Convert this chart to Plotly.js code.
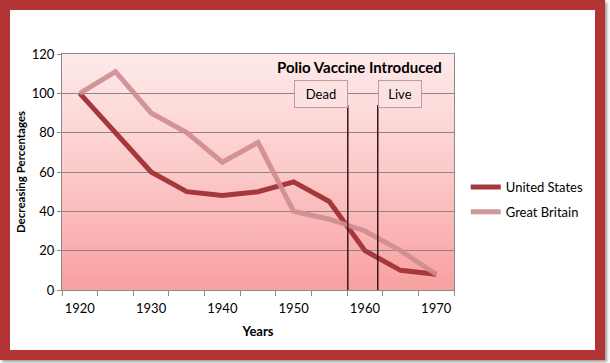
<!DOCTYPE html>
<html>
<head>
<meta charset="utf-8">
<script src="https://cdn.plot.ly/plotly-3.0.1.min.js"></script>
<style>
  html, body { margin: 0; padding: 0; background: #ffffff; }
  #frame { position: absolute; left: 0; top: 0; width: 605px; height: 360px; box-sizing: border-box;
           border: 10px solid #b23434; background: #ffffff; box-shadow: 2px 2px 3px #9a9a9a; }
  #plotbg { position: absolute; left: 62px; top: 54px; width: 392px; height: 236px;
            background: linear-gradient(to bottom, #feeaea 0%, #fcc9c9 50%, #f8a0a0 100%); }
  #chart { position: absolute; left: 0; top: 0; width: 610px; height: 363px; }
</style>
</head>
<body>
<div id="frame"></div>
<div id="plotbg"></div>
<div id="chart"></div>
<script>
const years = [1920, 1925, 1930, 1935, 1940, 1945, 1950, 1955, 1960, 1965, 1970];
const unitedStates = [100, 80, 60, 50, 48, 50, 55, 45, 20, 10, 8];
const greatBritain = [100, 111, 90, 80, 65, 75, 40, 36, 30, 20, 8];
const tickYears = [1920, 1930, 1940, 1950, 1960, 1970];
const vaccineLabels = ['Dead', 'Live'];
const vaccineYears = [1957.6, 1961.8];
const vaccineLineTop = 94;
const boxLevel = 99.5;

const font = 'Lato, "Liberation Sans", sans-serif';

const traces = [
  { x: years, y: unitedStates, name: 'United States', type: 'scatter', mode: 'lines',
    line: { color: '#a5383a', width: 5 }, legendgroup: 'a' },
  { x: years, y: greatBritain, name: 'Great Britain', type: 'scatter', mode: 'lines',
    line: { color: 'rgba(206,140,143,0.9)', width: 5 }, legendgroup: 'b' }
];

const shapes = vaccineYears.map(v => ({
  type: 'line', xref: 'x', yref: 'y', x0: v, x1: v, y0: 0, y1: vaccineLineTop,
  line: { color: '#3a1616', width: 1.5 }
}));

const annotations = [
  { text: '<b>Polio Vaccine Introduced</b>', xref: 'x', yref: 'paper',
    x: (vaccineYears[0] + vaccineYears[1]) / 2 - 0.4, y: 0.947, xanchor: 'center', yanchor: 'middle',
    showarrow: false, font: { family: font, size: 15, color: '#000000' } }
].concat(vaccineLabels.map((lab, i) => ({
  text: lab, xref: 'x', yref: 'y', x: vaccineYears[i], y: boxLevel,
  xanchor: i === 0 ? 'right' : 'left', yanchor: 'middle', showarrow: false,
  width: i === 0 ? 52 : 42, height: 26,
  bgcolor: '#fbe2e2', bordercolor: '#c29b9b', borderwidth: 1, borderpad: 0,
  font: { family: font, size: 13, color: '#000000' }
})));

const layout = {
  width: 610, height: 363,
  margin: { l: 62, r: 156, t: 54, b: 73, pad: 0 },
  paper_bgcolor: 'rgba(0,0,0,0)', plot_bgcolor: 'rgba(0,0,0,0)',
  font: { family: font, size: 13, color: '#000000' },
  showlegend: true,
  legend: { x: 1.03, y: 0.5, xanchor: 'left', yanchor: 'top', tracegroupgap: 5,
            font: { family: font, size: 13, color: '#000000' }, bgcolor: 'rgba(0,0,0,0)' },
  xaxis: {
    range: [1917.5, 1972.5], tickvals: tickYears, ticktext: tickYears.map(String),
    ticks: '', showgrid: false, zeroline: false,
    showline: true, linecolor: '#8a8a8a', linewidth: 1, mirror: true,
    tickfont: { family: font, size: 13 }, ticklabelstandoff: 6,
    minor: { tick0: 1917.5, dtick: 5, ticks: 'outside', ticklen: 5, tickcolor: '#8a8a8a', showgrid: false },
    title: { text: '<b>Years</b>', font: { family: font, size: 13 }, standoff: 12 }
  },
  yaxis: {
    range: [0, 120], dtick: 20, tick0: 0,
    ticks: 'outside', ticklen: 4, tickcolor: '#8a8a8a',
    showgrid: true, gridcolor: '#8f8585', gridwidth: 1, zeroline: false,
    showline: true, linecolor: '#8a8a8a', linewidth: 1, mirror: true,
    tickfont: { family: font, size: 13 },
    title: { text: '<b>Decreasing Percentages</b>', font: { family: font, size: 11.5 }, standoff: 3 }
  },
  shapes: shapes,
  annotations: annotations
};

Plotly.newPlot('chart', traces, layout, { displayModeBar: false, staticPlot: true });
</script>
</body>
</html>
